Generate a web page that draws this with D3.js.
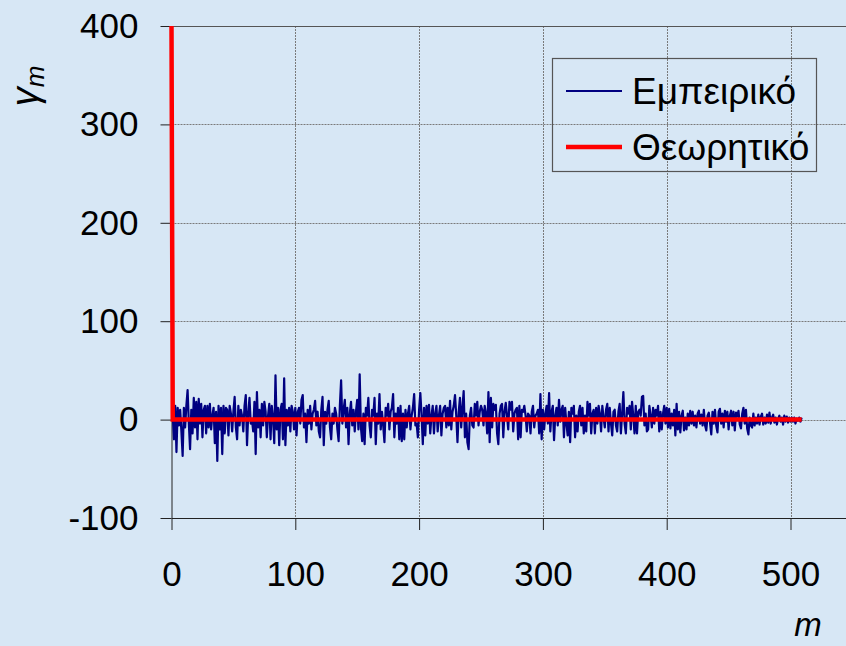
<!DOCTYPE html>
<html><head><meta charset="utf-8">
<script src="https://cdn.jsdelivr.net/npm/d3@7"></script>
<style>html,body{margin:0;padding:0;background:#d7e7f5;} svg{display:block;}</style>
</head><body>
<svg id="chart" width="846" height="646"></svg>
<script>
const xTicks = [0, 100, 200, 300, 400, 500];
const yTicks = [-100, 0, 100, 200, 300, 400];
const seriesNames = ["Εμπειρικό", "Θεωρητικό"];
// empirical autocovariance, lag m = index (0..509)
const empirical = [398,
 5,-20,14,-33,12,-6,10,-12,-37,12,
 -8,14,30,-4,-30,10,-14,22,-8,18,
 -20,21,-4,16,-18,10,14,-14,14,-8,
 16,-10,4,12,-24,8,-42,14,-10,12,
 -35,14,-14,12,10,-16,14,6,-12,8,
 23,-8,-20,14,-6,10,4,-12,14,25,
 -26,6,22,-4,0,-12,18,-35,28,-8,
 10,-18,16,-6,18,8,-18,4,16,-20,
 14,2,-24,45,-10,12,-26,10,16,-20,
 42,-26,10,-6,12,-12,14,8,-10,12,
 -16,8,12,-4,20,25,-8,6,-23,10,
 -4,14,-10,6,10,19,-6,8,-12,-18,
 10,23,-26,8,-4,10,19,-8,-20,6,
 -4,12,6,-10,-22,14,40,-4,10,20,
 -8,12,-25,6,18,-6,10,-12,8,20,
 -10,46,-8,-22,6,-25,12,4,22,-6,
 -18,10,4,22,-25,6,-4,26,-10,8,
 -6,-23,12,4,16,-10,8,12,26,-18,
 6,-4,12,-20,14,-22,6,-20,10,-8,
 6,14,-10,4,12,26,-6,-4,-18,10,
 27,4,-25,12,-16,14,-4,15,-14,4,
 14,-14,6,14,-12,4,14,-16,6,12,
 14,-8,12,-6,19,-10,8,14,25,4,
 -23,8,22,-8,12,29,-18,6,-23,-30,
 4,12,-6,-8,16,4,18,-6,8,14,
 10,-6,14,6,-14,28,-23,22,-8,16,
 10,15,-14,-25,6,14,16,-18,8,17,
 4,-10,18,10,18,-12,6,10,12,-20,
 14,-18,10,8,14,4,-12,6,4,-14,
 8,14,-8,4,6,10,-14,26,-20,10,
 -10,6,14,-4,27,-12,8,14,-21,4,
 12,-6,20,-2,10,14,-18,12,-4,-16,
 8,-23,12,6,14,-18,4,-12,8,14,
 -6,12,-14,4,-12,18,4,16,-14,6,
 10,-14,12,-4,14,6,-12,14,2,-8,
 10,16,-12,12,-4,-16,8,10,-6,-12,
 8,16,-14,6,28,-4,-14,12,6,14,
 -10,18,4,-14,14,-14,8,10,4,23,
 24,-6,6,-12,-10,14,4,-8,12,-4,
 10,4,14,-12,8,-10,6,14,-4,12,
 -8,11,-9,6,-6,10,-16,16,-10,8,
 -13,4,9,-11,2,-10,6,-6,9,-4,
 8,-6,4,-8,6,9,-4,5,-6,10,
 -6,-11,4,7,-3,-15,8,-4,10,-6,
 -13,8,11,-4,6,-8,9,-2,8,-10,
 4,9,-6,8,-11,7,3,9,-5,-9,
 6,12,-4,10,-9,-15,2,-6,-8,6,
 -6,2,-4,5,-5,3,6,-5,2,-4,
 5,-3,7,-4,2,5,-3,2,-5,1,
 4,-2,2,-5,4,-2,3,-3,2,-2,
 2,-2,2,-4,1,-1,2,-2,2];
const theoryLags = [0, 1, 509];
const theoryValues = [400, 0, 0];

const W = 846, H = 646;
const BG = "#d7e7f5";
const FONT = "'Liberation Sans', Arial, sans-serif";
const pxPer = 1.238;
const x = d3.scaleLinear().domain([0, 545]).range([171.5, 171.5 + 545 * pxPer]);
const y = d3.scaleLinear().domain([-100, 400]).range([518, 26]);

const svg = d3.select("#chart");
svg.append("rect").attr("width", W).attr("height", H).attr("fill", BG);

// gridlines
const grid = svg.append("g");
grid.selectAll("line.h").data(yTicks.filter(d => d > -100 && d < 400)).join("line")
  .attr("x1", x(0)).attr("x2", W)
  .attr("y1", d => Math.round(y(d)) + 0.5).attr("y2", d => Math.round(y(d)) + 0.5)
  .attr("stroke", "#7a7a7a").attr("stroke-width", 1).attr("stroke-dasharray", "2,1");
grid.selectAll("line.v").data(xTicks.filter(d => d > 0)).join("line")
  .attr("x1", d => Math.round(x(d)) + 0.5).attr("x2", d => Math.round(x(d)) + 0.5)
  .attr("y1", y(400)).attr("y2", y(-100))
  .attr("stroke", "#7a7a7a").attr("stroke-width", 1).attr("stroke-dasharray", "2,1");
// top border at 400
svg.append("line").attr("x1", x(0)).attr("x2", W)
  .attr("y1", Math.round(y(400)) + 0.5).attr("y2", Math.round(y(400)) + 0.5)
  .attr("stroke", "#555").attr("stroke-width", 1);

// axes
const fmt = d => String(d);
const yAxis = svg.append("g").attr("transform", `translate(${x(0)},0)`)
  .call(d3.axisLeft(y).tickValues(yTicks).tickFormat(fmt).tickSize(11).tickSizeOuter(0).tickPadding(22));
const xAxis = svg.append("g").attr("transform", `translate(0,${y(-100)})`)
  .call(d3.axisBottom(x).tickValues(xTicks).tickFormat(fmt).tickSize(12).tickSizeOuter(0).tickPadding(31));
[yAxis, xAxis].forEach(g => {
  g.selectAll("path.domain").attr("stroke", "#222").attr("stroke-width", 1);
  g.selectAll(".tick line").attr("stroke", "#222").attr("stroke-width", 1);
  g.selectAll(".tick text").attr("font-family", FONT).attr("font-size", 35).attr("fill", "#000");
});

// lines
const lineGen = d3.line().x(d => x(d[0])).y(d => y(d[1]));
svg.append("path").datum(empirical.map((v, i) => [i, v]))
  .attr("d", lineGen).attr("fill", "none").attr("stroke", "#000080")
  .attr("stroke-width", 2.2).attr("stroke-linejoin", "round");
svg.append("path").datum(theoryLags.map((m, i) => [m, theoryValues[i]]))
  .attr("d", lineGen).attr("fill", "none").attr("stroke", "#ff0000")
  .attr("stroke-width", 4.5).attr("stroke-linejoin", "miter");

// legend
const lg = svg.append("g");
lg.append("rect").attr("x", 552.5).attr("y", 58.5).attr("width", 264).attr("height", 113)
  .attr("fill", "none").attr("stroke", "#555").attr("stroke-width", 1.2);
const legendColors = ["#000080", "#ff0000"], legendWidths = [2, 4.5];
seriesNames.forEach((name, i) => {
  const cy = 91 + i * 56;
  lg.append("line").attr("x1", 566).attr("x2", 622).attr("y1", cy).attr("y2", cy)
    .attr("stroke", legendColors[i]).attr("stroke-width", legendWidths[i]);
  lg.append("text").attr("x", 632).attr("y", cy + 13).attr("font-family", FONT)
    .attr("font-size", 37).attr("fill", "#000").text(name);
});

// axis titles
const yt = svg.append("text").attr("transform", "translate(38,86) rotate(-90)")
  .attr("text-anchor", "middle").attr("font-family", FONT).attr("font-style", "italic").attr("fill", "#000");
yt.append("tspan").attr("font-size", 38).text("γ");
yt.append("tspan").attr("font-size", 26).attr("dy", 6).text("m");
svg.append("text").attr("x", 808).attr("y", 636).attr("text-anchor", "middle")
  .attr("font-family", FONT).attr("font-style", "italic").attr("font-size", 33).attr("fill", "#000").text("m");
</script>
</body></html>
